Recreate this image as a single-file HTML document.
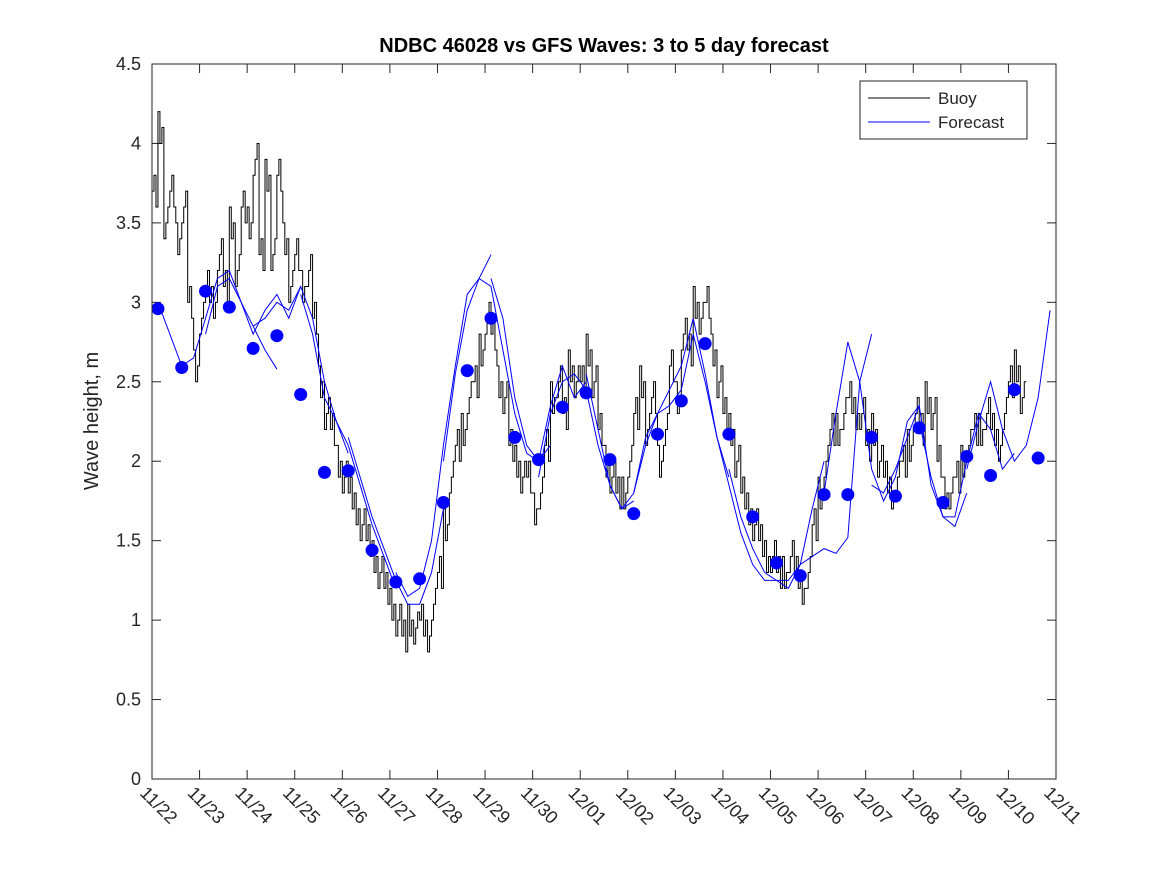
<!DOCTYPE html>
<html><head><meta charset="utf-8"><style>
body{margin:0;background:#fff;}
svg{display:block;font-family:"Liberation Sans","DejaVu Sans",sans-serif;}
</style></head><body>
<svg id="chart" width="1167" height="875" viewBox="0 0 1167 875">
<rect x="0" y="0" width="1167" height="875" fill="#fff"/>
<text x="604" y="52" text-anchor="middle" font-size="20" font-weight="bold">NDBC 46028 vs GFS Waves: 3 to 5 day forecast</text>
<text transform="translate(98,421) rotate(-90)" text-anchor="middle" font-size="20" fill="#262626">Wave height, m</text>
<g id="axes"></g>
<g id="series"></g>
<rect x="152" y="64" width="904" height="715" fill="none" stroke="#262626" stroke-width="1"/>
<g>
<rect x="860" y="81" width="167" height="58" fill="#fff" stroke="#262626"/>
<line x1="868" y1="98" x2="930" y2="98" stroke="#000"/>
<text x="938" y="104" font-size="17" fill="#262626">Buoy</text>
<line x1="868" y1="122" x2="930" y2="122" stroke="#0000ff"/>
<text x="938" y="128" font-size="17" fill="#262626">Forecast</text>
</g>
</svg>
<script>
const xTickLabels=["11/22","11/23","11/24","11/25","11/26","11/27","11/28","11/29","11/30","12/01","12/02","12/03","12/04","12/05","12/06","12/07","12/08","12/09","12/10","12/11"];
const yTicks=[0,0.5,1,1.5,2,2.5,3,3.5,4,4.5];
// buoy, 3-hour step starting day 0
const buoy=[3.7,4.1,3.5,3.7,3.4,3.6,3.0,2.6, 2.9,3.1,3.0,3.3,3.1,3.5,3.2,3.6, 3.5,3.9,3.3,3.8,3.3,3.8,3.4,3.1, 3.3,3.1,3.2,2.9,2.5,2.3,2.2,2.0, 1.9,1.8,1.7,1.6,1.5,1.4,1.3,1.2, 1.1,1.0,0.9,1.0,0.95,1.0,0.9,1.1, 1.3,1.6,1.9,2.1,2.2,2.4,2.5,2.7, 2.9,2.8,2.5,2.4,2.1,2.0,1.9,1.9, 1.7,1.8,2.1,2.4,2.5,2.3,2.6,2.5, 2.5,2.7,2.5,2.2,2.0,1.9,1.8,1.8, 2.0,2.3,2.5,2.2,2.4,2.0,2.2,2.6, 2.4,2.8,2.7,3.0,2.9,3.0,2.7,2.5, 2.3,2.2,2.0,1.8,1.7,1.6,1.5,1.4, 1.4,1.3,1.3,1.4,1.3,1.2,1.3,1.6, 1.8,2.0,2.2,2.2,2.3,2.4,2.3,2.3, 2.1,2.2,2.0,1.9,1.8,1.9,2.0,2.1, 2.3,2.2,2.4,2.3,2.0,1.8,1.8,1.9, 2.0,2.1,2.2,2.2,2.3,2.2,2.1,2.3, 2.5,2.6,2.4];
const buoyStepDays=0.125;
const jitter=[0,0.1,-0.1];
// forecast dots, 0.5 day step starting day 0.125
const dotStart=0.125;
const dots=[2.96,2.59,3.07,2.97,2.71,2.79,2.42,1.93,1.94,1.44,1.24,1.26,1.74,2.57,2.90,2.15,2.01,2.34,2.43,2.01,1.67,2.17,2.38,2.74,2.17,1.65,1.36,1.28,1.79,1.79,2.15,1.78,2.21,1.74,2.03,1.91,2.45,2.02];
// forecast runs: start day, values every 6h
const runStarts=[0,1,2,3,4,5,6,7,8,9,10,11,12,13,14,15,16,17];
const runValues=[
[3.0,2.8,2.6,2.65,2.9,3.15,3.2,3.0,2.85,2.7,2.58],
[2.8,3.1,3.15,3.0,2.8,2.95,3.05,2.9,3.1],
[2.85,2.9,3.0,2.95,3.1,2.9,2.5,2.25,2.05],
[3.05,2.8,2.4,2.25,2.1,1.85,1.6,1.4,1.2],
[2.15,1.9,1.65,1.45,1.25,1.1,1.1,1.3,1.7],
[1.3,1.15,1.2,1.5,2.1,2.6,3.05,3.15,3.3],
[2.0,2.55,2.95,3.15,3.1,2.7,2.3,2.05,2.0,2.1],
[3.15,2.9,2.4,2.1,2.0,2.35,2.6,2.4,2.5],
[1.9,2.3,2.5,2.55,2.45,2.1,1.85,1.7,1.75],
[2.55,2.2,1.85,1.7,1.8,2.1,2.3,2.35,2.45],
[1.8,2.15,2.3,2.45,2.6,2.9,2.55,2.15,1.9],
[2.45,2.8,2.5,2.15,1.85,1.55,1.35,1.25,1.25],
[1.95,1.65,1.45,1.3,1.25,1.25,1.35,1.7,2.0],
[1.25,1.2,1.35,1.4,1.45,1.42,1.52,2.5,2.8],
[1.8,2.3,2.75,2.5,1.95,1.75,1.9,2.25,2.35],
[1.85,1.8,1.95,2.15,2.35,1.85,1.65,1.59,1.8],
[2.25,1.9,1.65,1.65,2.0,2.3,2.2,1.95,2.05],
[1.95,2.25,2.5,2.2,2.0,2.1,2.4,2.95]
];
const X=d=>152+d*(904/19);
const Y=v=>779-v*(715/4.5);
const NS="http://www.w3.org/2000/svg";
const ax=document.getElementById('axes'), sr=document.getElementById('series');
function mk(tag,attrs,parent){const e=document.createElementNS(NS,tag);for(const k in attrs)e.setAttribute(k,attrs[k]);parent.appendChild(e);return e;}
yTicks.forEach(v=>{
 const l=mk('line',{x1:152,x2:161,y1:Y(v),y2:Y(v),stroke:'#262626'},ax);
 
 
 const r=mk('line',{x1:1047,x2:1056,y1:Y(v),y2:Y(v),stroke:'#262626'},ax);
 
 
 const t=mk('text',{x:141,y:Y(v)+6,'text-anchor':'end','font-size':18,fill:'#262626'},ax);
 t.textContent=String(v);
 
 
});
xTickLabels.forEach((s,i)=>{
 const x=X(i);
 const l=mk('line',{x1:x,x2:x,y1:779,y2:770,stroke:'#262626'},ax);
 
 
 const tp=mk('line',{x1:x,x2:x,y1:64,y2:73,stroke:'#262626'},ax);
 
 
 const t=mk('text',{transform:`translate(${x-13},${794}) rotate(45)`,'font-size':18,fill:'#262626'},ax);
 t.textContent=s;
 
 
});
// buoy hourly staircase
let pts=[];
buoy.forEach((v,i)=>{
 for(let k=0;k<3;k++){
  const d0=i*buoyStepDays+k/24, d1=d0+1/24;
  const vv=v+jitter[(i+k)%3];
  pts.push(X(d0)+','+Y(vv));
  pts.push(X(d1)+','+Y(vv));
 }
});
const bl=mk('polyline',{points:pts.join(' '),fill:'none',stroke:'#000','stroke-width':1},sr);


runStarts.forEach((s,r)=>{
 const p=runValues[r].map((v,j)=>X(s+0.125+j*0.25)+','+Y(v)).join(' ');
 const pl=mk('polyline',{points:p,fill:'none',stroke:'#0000ff','stroke-width':1},sr);
 
 
});
dots.forEach((v,i)=>{
 const c=mk('circle',{cx:X(dotStart+i*0.5),cy:Y(v),r:6.5,fill:'#0000ff'},sr);
 
 
});
</script>
</body></html>
